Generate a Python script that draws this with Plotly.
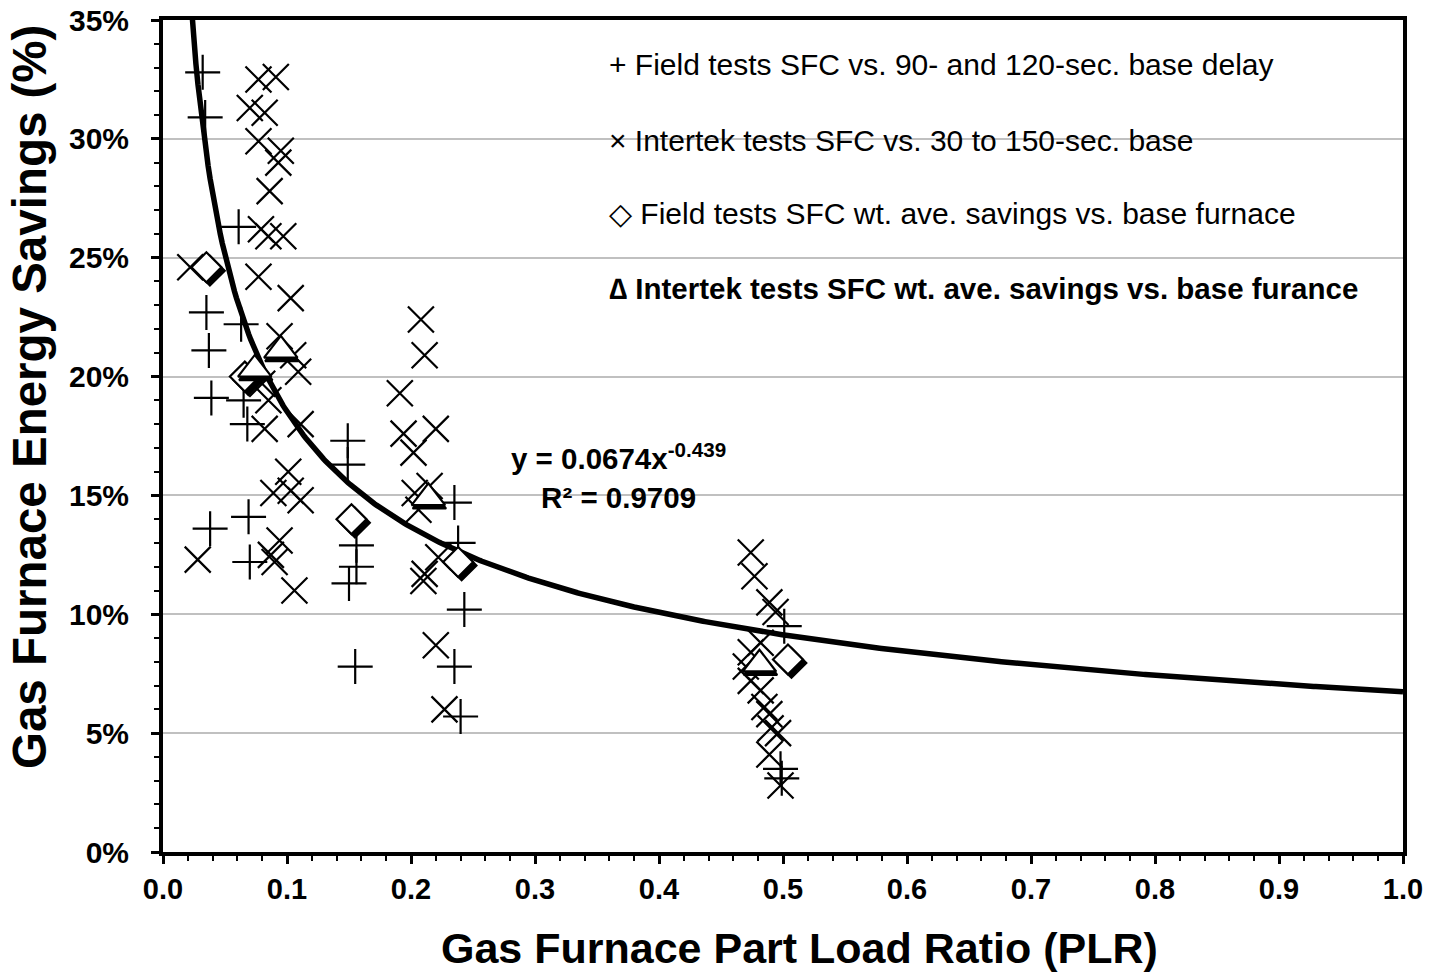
import numpy as np
import plotly.graph_objects as go

# Field tests: SFC vs. 90- and 120-sec. base delay
field_x = [0.032, 0.034, 0.061, 0.035, 0.037, 0.063, 0.039, 0.065, 0.068, 0.069, 0.038, 0.070,
           0.149, 0.149, 0.156, 0.156, 0.150, 0.155,
           0.235, 0.238, 0.243, 0.235, 0.240,
           0.501, 0.498, 0.499]
field_y = [0.328, 0.309, 0.263, 0.227, 0.211, 0.222, 0.191, 0.190, 0.180, 0.141, 0.136, 0.122,
           0.173, 0.163, 0.129, 0.120, 0.113, 0.078,
           0.147, 0.130, 0.102, 0.078, 0.057,
           0.095, 0.035, 0.031]

# Intertek tests: SFC vs. 30 to 150-sec. base
intertek_x = [0.022, 0.028,
              0.077, 0.091, 0.070, 0.082, 0.077, 0.095, 0.093, 0.086, 0.079, 0.085, 0.097, 0.077,
              0.103, 0.094, 0.105, 0.109, 0.080, 0.085, 0.082, 0.111, 0.101, 0.089, 0.103, 0.111,
              0.094, 0.087, 0.090, 0.106,
              0.208, 0.211, 0.191, 0.194, 0.220, 0.202, 0.203, 0.215, 0.206, 0.222, 0.211, 0.210,
              0.220, 0.227,
              0.474, 0.477, 0.489, 0.494, 0.482, 0.474, 0.470, 0.474, 0.482, 0.485, 0.489, 0.490,
              0.496, 0.489, 0.498]
intertek_y = [0.246, 0.123,
              0.325, 0.326, 0.313, 0.311, 0.299, 0.295, 0.290, 0.278, 0.262, 0.259, 0.259, 0.242,
              0.233, 0.217, 0.209, 0.202, 0.197, 0.190, 0.178, 0.180, 0.160, 0.151, 0.152, 0.148,
              0.131, 0.125, 0.122, 0.110,
              0.224, 0.209, 0.193, 0.176, 0.178, 0.168, 0.151, 0.154, 0.144, 0.124, 0.117, 0.114,
              0.087, 0.060,
              0.126, 0.116, 0.105, 0.101, 0.088, 0.084, 0.078, 0.072, 0.068, 0.061, 0.058, 0.052,
              0.050, 0.041, 0.028]

# Weighted-average savings
field_avg_x = [0.035, 0.066, 0.152, 0.238, 0.504]
field_avg_y = [0.246, 0.200, 0.140, 0.122, 0.081]
intertek_avg_x = [0.074, 0.095, 0.214, 0.481]
intertek_avg_y = [0.203, 0.211, 0.149, 0.079]

# Power-law trend line y = a * x^b
fit_a = 0.0674
fit_b = -0.439
fit_r2 = 0.9709

FONT = "Arial, Liberation Sans, sans-serif"

# Plot-area geometry in pixels (used for the shadow offset and annotation placement)
W, H = 1443, 975
ML, MR, MT, MB = 163, 40, 20, 123
PW, PH = W - ML - MR, H - MT - MB
Y_MAX = 0.35

fig = go.Figure()

# trend curve
curve_x = np.linspace(0.02, 1.0, 600)
curve_y = fit_a * curve_x ** fit_b
fig.add_trace(go.Scatter(x=curve_x, y=curve_y, mode="lines",
                         line=dict(color="black", width=5.5), hoverinfo="skip",
                         showlegend=False))

fig.add_trace(go.Scatter(x=field_x, y=field_y, mode="markers", name="Field tests",
                         marker=dict(symbol="cross-thin-open", size=25, color="black",
                                     line=dict(color="black", width=2.2)),
                         showlegend=False))
fig.add_trace(go.Scatter(x=intertek_x, y=intertek_y, mode="markers", name="Intertek tests",
                         marker=dict(symbol="x-thin-open", size=26, color="black",
                                     line=dict(color="black", width=2.2)),
                         showlegend=False))

# drop shadow (a few px down-right) behind the averaged markers
dx = 3.5 / PW * 1.0
dy = 3.5 / PH * Y_MAX
fig.add_trace(go.Scatter(x=[v + dx for v in field_avg_x], y=[v - dy for v in field_avg_y],
                         mode="markers", hoverinfo="skip", showlegend=False,
                         marker=dict(symbol="diamond", size=23, color="black",
                                     line=dict(color="black", width=2))))
fig.add_trace(go.Scatter(x=field_avg_x, y=field_avg_y, mode="markers", name="Field avg",
                         marker=dict(symbol="diamond", size=23, color="white",
                                     line=dict(color="black", width=2.2)),
                         showlegend=False))
fig.add_trace(go.Scatter(x=[v + dx * 0.3 for v in intertek_avg_x],
                         y=[v - dy for v in intertek_avg_y],
                         mode="markers", hoverinfo="skip", showlegend=False,
                         marker=dict(symbol="triangle-up", size=29, color="black",
                                     line=dict(color="black", width=2))))
fig.add_trace(go.Scatter(x=intertek_avg_x, y=intertek_avg_y, mode="markers", name="Intertek avg",
                         marker=dict(symbol="triangle-up", size=29, color="white",
                                     line=dict(color="black", width=2.2)),
                         showlegend=False))


def px_to_paper(px, py):
    return (px - ML) / PW, (H - MB - py) / PH


annotations = []
legend_rows = [
    ("+ Field tests SFC vs. 90- and 120-sec. base delay", 65, False),
    ("× Intertek tests SFC vs. 30 to 150-sec. base", 140, False),
    ("◇ Field tests SFC wt. ave. savings vs. base furnace", 214, False),
    ("∆ Intertek tests SFC wt. ave. savings vs. base furance", 288, True),
]
for text, py, bold in legend_rows:
    ax, ay = px_to_paper(607, py)
    annotations.append(dict(x=ax, y=ay, xref="paper", yref="paper", xanchor="left",
                            yanchor="middle", showarrow=False,
                            text=f"<b>{text}</b>" if bold else text,
                            font=dict(family=FONT, size=30 if not bold else 29.5, color="black")))

# fitted equation and R²
ex, ey = px_to_paper(618, 476)
annotations.append(dict(x=ex, y=ey, xref="paper", yref="paper", xanchor="center",
                        yanchor="middle", showarrow=False, align="center",
                        text=f"<b>y = {fit_a}x<sup>{fit_b}</sup><br>R² = {fit_r2}</b>",
                        font=dict(family=FONT, size=29.5, color="black")))

# axis titles
tx, ty = px_to_paper(799, 948)
annotations.append(dict(x=tx, y=ty, xref="paper", yref="paper", xanchor="center",
                        yanchor="middle", showarrow=False,
                        text="<b>Gas Furnace Part Load Ratio (PLR)</b>",
                        font=dict(family=FONT, size=43, color="black")))
yx, yy = px_to_paper(29, 397)
annotations.append(dict(x=yx, y=yy, xref="paper", yref="paper", xanchor="center",
                        yanchor="middle", showarrow=False, textangle=-90,
                        text="<b>Gas Furnace Energy Savings (%)</b>",
                        font=dict(family=FONT, size=47.5, color="black")))

fig.update_layout(
    width=W, height=H,
    margin=dict(l=ML, r=MR, t=MT, b=MB, autoexpand=False),
    paper_bgcolor="white", plot_bgcolor="white",
    font=dict(family=FONT, color="black"),
    annotations=annotations,
)

fig.update_xaxes(
    range=[0, 1.0], tick0=0, dtick=0.1, tickformat=".1f",
    showgrid=False, zeroline=False, automargin=False,
    showline=True, linecolor="black", linewidth=4, mirror=True,
    ticks="outside", ticklen=8, tickwidth=2.5, tickcolor="black",
    minor=dict(ticks="outside", dtick=0.02, ticklen=5, tickwidth=2, tickcolor="black", showgrid=False),
    tickfont=dict(family=FONT, size=29, color="black", weight="bold"),
    ticklabelstandoff=0,
)
fig.update_yaxes(
    range=[0, Y_MAX], tick0=0, dtick=0.05, tickformat=".0%",
    showgrid=True, gridcolor="#c0c0c0", gridwidth=1.5, zeroline=False, automargin=False,
    showline=True, linecolor="black", linewidth=4, mirror=True,
    ticks="outside", ticklen=8, tickwidth=2.5, tickcolor="black",
    minor=dict(ticks="outside", dtick=0.01, ticklen=5, tickwidth=2, tickcolor="black", showgrid=False),
    tickfont=dict(family=FONT, size=30, color="black", weight="bold"),
    ticklabelstandoff=16,
)

fig.write_html("out.html")
